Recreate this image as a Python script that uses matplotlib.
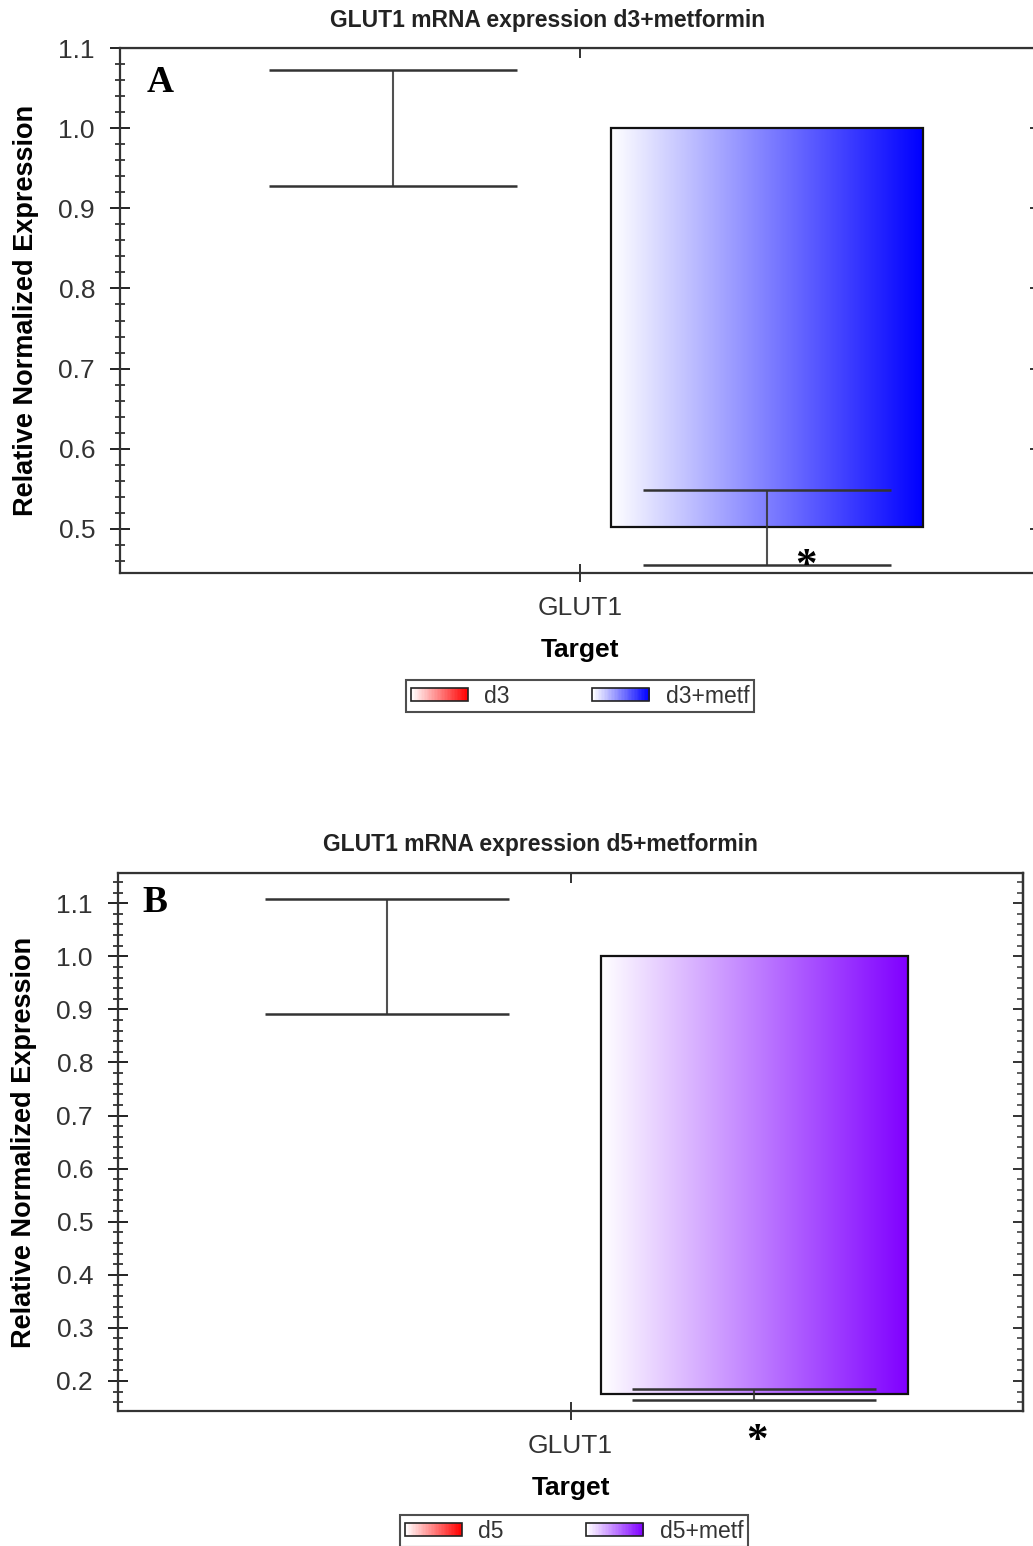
import numpy as np
import matplotlib
matplotlib.use('Agg')
import matplotlib.pyplot as plt
from matplotlib.patches import Rectangle
from matplotlib.colors import LinearSegmentedColormap
from matplotlib.legend_handler import HandlerBase
from matplotlib.ticker import MultipleLocator, FormatStrFormatter

plt.rcParams['font.family'] = ['Liberation Sans', 'DejaVu Sans']

# data (relative normalized expression, baseline = control)
target = ['GLUT1']
groups_a = ['d3', 'd3+metf']
expr_a = [1.0, 0.502]
err_a = [0.072, 0.047]
groups_b = ['d5', 'd5+metf']
expr_b = [1.0, 0.175]
err_b = [0.108, 0.0105]
colors = ['#ff0000', '#0000ff']
colors_b = ['#ff0000', '#8000ff']
titles = ['GLUT1 mRNA expression d3+metformin', 'GLUT1 mRNA expression d5+metformin']
ylims = [(0.445, 1.1), (0.1434, 1.157)]
yticks_a = [0.5, 0.6, 0.7, 0.8, 0.9, 1.0, 1.1]
yticks_b = [0.2, 0.3, 0.4, 0.5, 0.6, 0.7, 0.8, 0.9, 1.0, 1.1]
baseline = 1.0

offset = 0.203
bar_w = 0.339
cap_hw = 0.135


class GradHandler(HandlerBase):
    def __init__(self, color):
        super().__init__()
        self.color = color

    def create_artists(self, legend, orig_handle, xdescent, ydescent,
                       width, height, fontsize, trans):
        cm = LinearSegmentedColormap.from_list('g', ['white', self.color])
        n = 40
        arts = []
        for k in range(n):
            arts.append(Rectangle((-xdescent + width * k / n, -ydescent),
                                  width / n * 1.1, height,
                                  facecolor=cm(k / (n - 1)), edgecolor='none',
                                  transform=trans))
        arts.append(Rectangle((-xdescent, -ydescent), width, height,
                              facecolor='none', edgecolor='#222222', lw=1.2,
                              transform=trans))
        return arts


fig = plt.figure(figsize=(10.33, 15.46), dpi=100)
W, H = 1033.0, 1546.0

panels = [
    dict(rect=[120 / W, 1 - 573 / H, 920 / W, 525 / H], groups=groups_a,
         expr=expr_a, err=err_a, cols=colors, yt=yticks_a, ylim=ylims[0],
         title=titles[0], tx=548, ty=20, letter='A', lx=160, ly=82,
         star=(806, 557), leg=(580, 680)),
    dict(rect=[118 / W, 1 - 1411 / H, 905 / W, 538 / H], groups=groups_b,
         expr=expr_b, err=err_b, cols=colors_b, yt=yticks_b, ylim=ylims[1],
         title=titles[1], tx=540, ty=845, letter='B', lx=155, ly=903,
         star=(757, 1432), leg=(574, 1515)),
]

for p in panels:
    ax = fig.add_axes(p['rect'])
    xs = [0.5 - offset, 0.5 + offset]
    handles = []
    for i, (x, v, e, c) in enumerate(zip(xs, p['expr'], p['err'], p['cols'])):
        h = Rectangle((0, 0), 1, 1)
        handles.append(h)
        if v != baseline:
            cm = LinearSegmentedColormap.from_list('g', ['white', c])
            lo, hi = min(v, baseline), max(v, baseline)
            ax.imshow(np.linspace(0, 1, 256).reshape(1, -1), cmap=cm,
                      extent=(x - bar_w / 2, x + bar_w / 2, lo, hi),
                      aspect='auto', zorder=1)
            ax.bar(x, v - baseline, bottom=baseline, width=bar_w,
                   facecolor='none', edgecolor='#111111', lw=1.6, zorder=2)
        ax.vlines(x, v - e, v + e, color='#333333', lw=1.5, alpha=0.85,
                  zorder=3)
        ax.hlines([v - e, v + e], x - cap_hw, x + cap_hw, color='#333333',
                  lw=1.8, zorder=3)

    ax.set_xlim(0, 1)
    ax.set_ylim(*p['ylim'])
    ax.set_xticks([0.5])
    ax.set_xticklabels(target)
    ax.set_yticks(p['yt'])
    ax.yaxis.set_major_formatter(FormatStrFormatter('%.1f'))
    ax.yaxis.set_minor_locator(MultipleLocator(0.02))
    for s in ax.spines.values():
        s.set_linewidth(1.6)
        s.set_color('#333333')
    ax.tick_params(axis='y', which='major', direction='inout', length=14,
                   width=1.4, color='#222222', labelsize=19,
                   labelcolor='#333333', pad=11)
    ax.tick_params(axis='y', which='minor', direction='inout', length=7,
                   width=1.2, color='#222222')
    ax.tick_params(axis='x', which='major', direction='inout', length=13,
                   width=1.4, color='#333333', labelsize=19,
                   labelcolor='#333333', pad=10)

    sec_y = ax.secondary_yaxis('right')
    sec_y.set_yticks(p['yt'])
    sec_y.yaxis.set_minor_locator(MultipleLocator(0.02))
    sec_y.tick_params(which='major', direction='in', length=7, width=1.4,
                      color='#333333', labelright=False)
    sec_y.tick_params(which='minor', direction='in', length=4, width=1.2,
                      color='#444444')
    sec_y.spines['right'].set_linewidth(1.6)
    sec_x = ax.secondary_xaxis('top')
    sec_x.set_xticks([0.5])
    sec_x.tick_params(direction='in', length=7, width=1.4, color='#333333',
                      labeltop=False)

    ax.set_xlabel('Target', fontsize=19, fontweight='bold', labelpad=13)
    ax.set_ylabel('Relative Normalized Expression', fontsize=19.5,
                  fontweight='bold', labelpad=14)

    fig.text(p['tx'] / W, 1 - p['ty'] / H, p['title'], ha='center',
             va='center', fontsize=16.5, fontweight='bold', color='#222222')
    fig.text(p['lx'] / W, 1 - p['ly'] / H, p['letter'], ha='center',
             va='center', fontsize=27, fontweight='bold',
             family='Liberation Serif')
    fig.text(p['star'][0] / W, 1 - (p['star'][1] + 10) / H, '*', ha='center',
             va='center', fontsize=31, fontweight='bold',
             family='Liberation Serif')

    hmap = {handles[0]: GradHandler(p['cols'][0]),
            handles[1]: GradHandler(p['cols'][1])}
    leg = ax.legend(handles, p['groups'], handler_map=hmap, ncol=2,
                    loc='upper center',
                    bbox_to_anchor=(p['leg'][0] / W, 1 - p['leg'][1] / H),
                    bbox_transform=fig.transFigure, fontsize=16.5,
                    handlelength=2.5, handleheight=0.5, handletextpad=0.7,
                    columnspacing=3.6, borderpad=0.2, borderaxespad=0,
                    fancybox=False, frameon=True)
    leg.get_frame().set_edgecolor('#222222')
    leg.get_frame().set_linewidth(1.5)
    for t in leg.get_texts():
        t.set_color('#333333')

fig.savefig('out.png', dpi=100)
